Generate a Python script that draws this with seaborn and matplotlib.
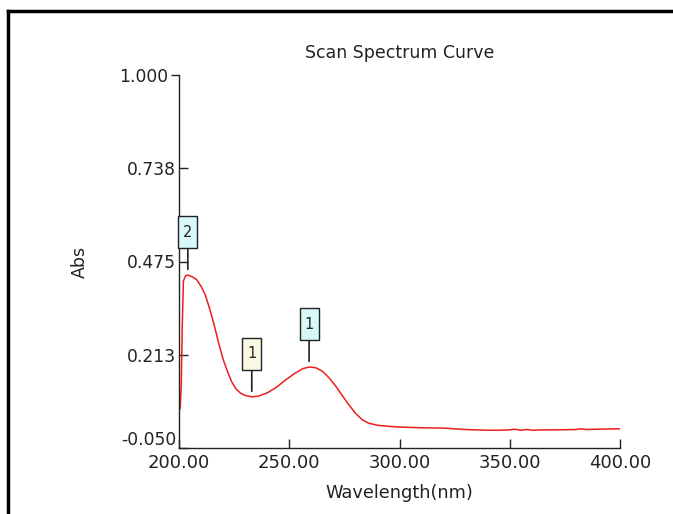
import matplotlib
matplotlib.use("Agg")
import matplotlib.pyplot as plt
from matplotlib.lines import Line2D, TICKLEFT
from matplotlib.path import Path
from matplotlib.transforms import ScaledTranslation
import seaborn as sns
import pandas as pd
import numpy as np

# ---- data ----
wavelength = [200.5, 201.0, 201.5, 202.0, 203, 204, 206, 208, 210, 212, 214, 216,
              218, 220, 222, 224, 226, 228, 230, 233, 236, 240, 244, 248, 252, 256,
              259, 262, 265, 268, 271, 274, 277, 280, 283, 286, 290, 295, 300, 305,
              310, 320, 330, 340, 345, 350, 352, 355, 358, 360, 365, 370, 380, 382,
              385, 390, 400]
absorbance = [0.060, 0.120, 0.300, 0.420, 0.435, 0.437, 0.432, 0.424, 0.405, 0.380,
              0.340, 0.295, 0.245, 0.200, 0.165, 0.135, 0.115, 0.104, 0.098, 0.094,
              0.096, 0.105, 0.120, 0.140, 0.158, 0.173, 0.178, 0.176, 0.166, 0.148,
              0.125, 0.098, 0.072, 0.048, 0.030, 0.020, 0.014, 0.011, 0.009, 0.008,
              0.007, 0.006, 0.002, 0.000, 0.000, 0.001, 0.003, 0.000, 0.002, 0.000,
              0.001, 0.001, 0.002, 0.004, 0.002, 0.003, 0.004]

peak_labels = ["2", "1", "1"]
peak_wavelengths = [204, 233, 259]
peak_colors = ["#d6f8f8", "#fafae4", "#d6f8f8"]

x_ticks = [200, 250, 300, 350, 400]
x_ticklabels = ["200.00", "250.00", "300.00", "350.00", "400.00"]
y_ticks = [-0.050, 0.213, 0.475, 0.738, 1.000]
y_ticklabels = ["-0.050", "0.213", "0.475", "0.738", "1.000"]

title = "Scan Spectrum Curve"
xlabel = "Wavelength(nm)"
ylabel = "Abs"

# ---- plot ----
sns.set_theme(style="white")
plt.rcParams["font.family"] = ["DejaVu Sans"]

W, H = 673, 514
fig = plt.figure(figsize=(W / 100, H / 100), dpi=100)
ax = fig.add_axes([179 / W, 1 - 448 / H, (620 - 179) / W, (448 - 75) / H])

df = pd.DataFrame({"wl": wavelength, "abs": absorbance})
sns.lineplot(data=df, x="wl", y="abs", ax=ax, color="#ec1e1e", linewidth=1.1)

ax.set_xlim(200, 400)
ax.set_ylim(-0.05, 1.0)
ax.set_xticks(x_ticks)
ax.set_xticklabels(x_ticklabels)
ax.set_yticks(y_ticks)
ax.set_yticklabels(y_ticklabels)
ax.tick_params(axis="both", direction="in", length=6.5, width=1, color="#222222",
               labelcolor="#222222", left=True, bottom=True)
ax.tick_params(axis="y", pad=2, labelsize=12.3)
ax.tick_params(axis="x", pad=4, labelsize=13)
for s in ["top", "right"]:
    ax.spines[s].set_visible(False)
for s in ["left", "bottom"]:
    ax.spines[s].set_color("#222222")
    ax.spines[s].set_linewidth(1)
ax.set_facecolor("white")

# lowest y label sits slightly above its tick, as in the reference
ylabels_objs = ax.get_yticklabels()
bottom_label = ylabels_objs[0]
bottom_label.set_transform(bottom_label.get_transform()
                           + ScaledTranslation(0, 10 / 100, fig.dpi_scale_trans))
# top tick points outward, its label moves left
top_tick = ax.yaxis.get_major_ticks()[-1]
top_tick.tick1line.set_marker(TICKLEFT)
top_tick.tick1line.set_markersize(6)
top_label = ylabels_objs[-1]
top_label.set_transform(top_label.get_transform()
                        + ScaledTranslation(-8 / 100, 0, fig.dpi_scale_trans))

ax.set_title(title, fontsize=12.5, color="#222222", pad=12)
ax.set_xlabel(xlabel, fontsize=12.8, color="#222222", labelpad=9)
ax.set_ylabel(ylabel, fontsize=12.5, color="#222222", labelpad=22)


def tall_box(x0, y0, width, height, mutation_size):
    padx = 0.34 * mutation_size
    pady = 0.6 * mutation_size
    x0, x1 = x0 - padx, x0 + width + padx
    y0, y1 = y0 - pady, y0 + height + pady
    return Path([(x0, y0), (x1, y0), (x1, y1), (x0, y1), (x0, y0)], closed=True)


# peak / valley markers
for lab, wl, col in zip(peak_labels, peak_wavelengths, peak_colors):
    val = absorbance[wavelength.index(wl)]
    ax.annotate(lab, xy=(wl, val), xytext=(0, 25.5), textcoords="offset points",
                ha="center", va="bottom", fontsize=10.5, color="#222222",
                bbox=dict(boxstyle=tall_box, fc=col, ec="#222222", lw=1),
                arrowprops=dict(arrowstyle="-", color="#222222", lw=1.2,
                                shrinkA=0, shrinkB=4, relpos=(0.5, 0)),
                annotation_clip=False, zorder=5)

# outer frame (top and left thick lines)
fig.add_artist(Line2D([7.5 / W, 1.0], [1 - 10.5 / H, 1 - 10.5 / H],
                      transform=fig.transFigure, color="black", lw=2.5,
                      solid_capstyle="projecting"))
fig.add_artist(Line2D([7.5 / W, 7.5 / W], [1 - 10.5 / H, 0.0],
                      transform=fig.transFigure, color="black", lw=2.5,
                      solid_capstyle="projecting"))

fig.savefig("out.png", dpi=100, facecolor="white")
